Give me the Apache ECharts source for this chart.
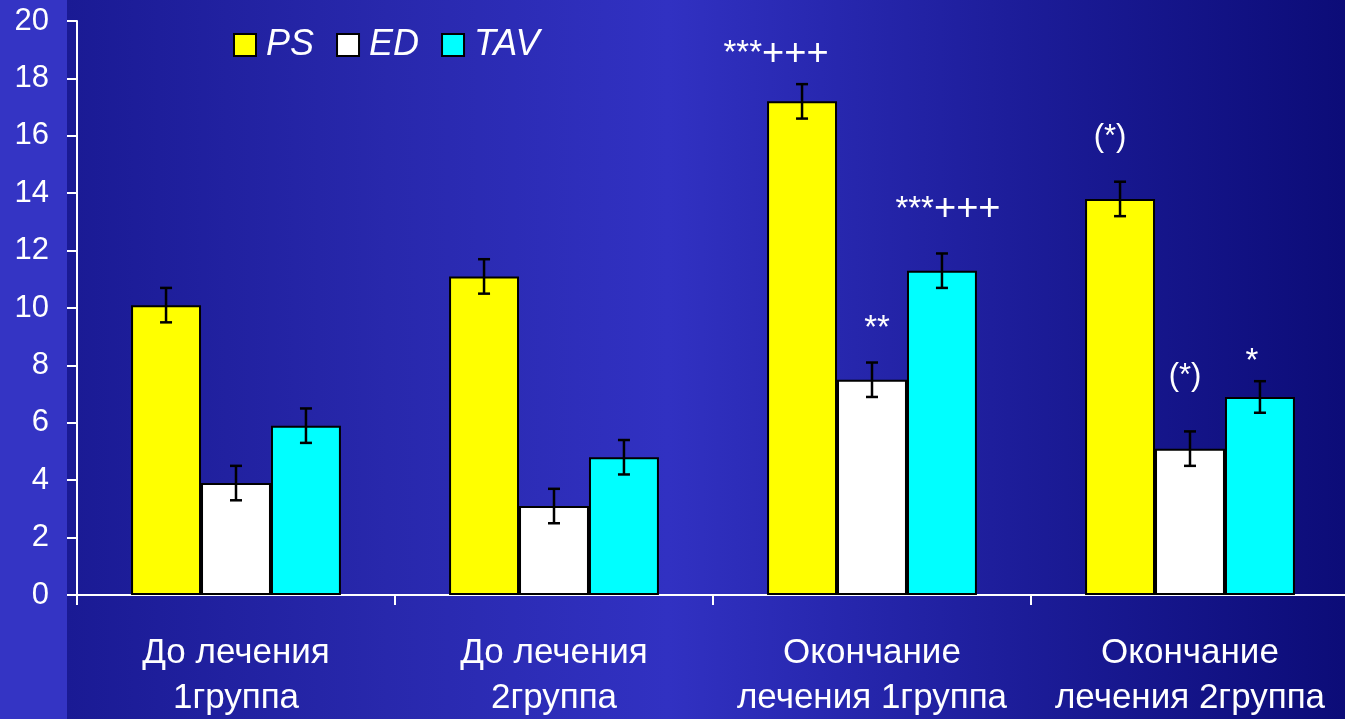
<!DOCTYPE html>
<html>
<head>
<meta charset="utf-8">
<script src="https://cdn.jsdelivr.net/npm/echarts@6/dist/echarts.min.js"></script>
<style>
  html, body { margin: 0; padding: 0; background: #3434c4; }
  #chart { width: 1345px; height: 719px; }
</style>
</head>
<body>
<div id="chart"></div>
<script>
// Groups along the x axis
const categories = ['До лечения\n1группа', 'До лечения\n2группа', 'Окончание\nлечения 1группа', 'Окончание\nлечения 2группа'];
const seriesNames = ['PS', 'ED', 'TAV'];

// Mean values per group
const psValues = [10.1, 11.1, 17.2, 13.8];
const edValues = [3.9, 3.1, 7.5, 5.1];
const tavValues = [5.9, 4.8, 11.3, 6.9];

// Error (± half-range) per group
const psErrors = [0.6, 0.6, 0.6, 0.6];
const edErrors = [0.6, 0.6, 0.6, 0.6];
const tavErrors = [0.6, 0.6, 0.6, 0.55];

// Significance marks above bars
const psMarks = ['', '', '***+++', '(*)'];
const edMarks = ['', '', '**', '(*)'];
const tavMarks = ['', '', '***+++', '*'];

const yTicks = { min: 0, max: 20, interval: 2 };

const FONT = '"Liberation Sans", Arial, sans-serif';
const colors = ['#ffff00', '#ffffff', '#00ffff'];
const CAT_GAP = 0.34;

// label placement for the significance marks: [dx, dy]
const markOffsets = {
  'PS-2': [-26, 0], 'PS-3': [-10, 0],
  'ED-2': [5, 0], 'ED-3': [-5, 0],
  'TAV-2': [6, 0], 'TAV-3': [-8, 0]
};
const markDistance = {
  'PS-2': 29, 'PS-3': 43,
  'ED-2': 33, 'ED-3': 54,
  'TAV-2': 43, 'TAV-3': 17
};

function richMark(text) {
  if (text === '(*)') return '{q|(*)}';
  const m = text.match(/^(\*+)(\+*)$/);
  if (!m) return text;
  return '{a|' + m[1] + '}' + (m[2] ? '{p|' + m[2] + '}' : '');
}

const markRich = {
  a: { color: '#fff', fontFamily: FONT, fontSize: 33, lineHeight: 36 },
  p: { color: '#fff', fontFamily: FONT, fontSize: 38, lineHeight: 36 },
  q: { color: '#fff', fontFamily: FONT, fontSize: 31, lineHeight: 36 }
};

function barData(name, values, marks) {
  return values.map((v, i) => {
    const key = name + '-' + i;
    if (!marks[i]) return { value: v };
    return {
      value: v,
      label: {
        show: true,
        position: 'top',
        distance: markDistance[key] || 20,
        offset: markOffsets[key] || [0, 0],
        formatter: richMark(marks[i]),
        rich: markRich
      }
    };
  });
}

function barSeries(idx, values, marks) {
  return {
    name: seriesNames[idx],
    type: 'bar',
    barGap: '0%',
    barCategoryGap: (CAT_GAP * 100) + '%',
    itemStyle: { color: colors[idx], borderColor: '#000', borderWidth: 2 },
    data: barData(seriesNames[idx], values, marks),
    z: 2
  };
}

function errorSeries(idx, values, errors) {
  return {
    type: 'custom',
    name: seriesNames[idx] + ' error',
    z: 5,
    silent: true,
    encode: { x: 0, y: [1, 2] },
    data: values.map((v, i) => [i, v - errors[i], v + errors[i]]),
    renderItem: function (params, api) {
      const cat = api.value(0);
      const band = api.size([1, 0])[0];
      const barW = band * (1 - CAT_GAP) / 3;
      const lo = api.coord([cat, api.value(1)]);
      const hi = api.coord([cat, api.value(2)]);
      const x = lo[0] + (idx - 1) * barW;
      const cap = 6;
      const style = { stroke: '#000', lineWidth: 2.5 };
      return {
        type: 'group',
        children: [
          { type: 'line', shape: { x1: x, y1: lo[1], x2: x, y2: hi[1] }, style },
          { type: 'line', shape: { x1: x - cap, y1: hi[1], x2: x + cap, y2: hi[1] }, style },
          { type: 'line', shape: { x1: x - cap, y1: lo[1], x2: x + cap, y2: lo[1] }, style }
        ]
      };
    }
  };
}

const chart = echarts.init(document.getElementById('chart'), null, { renderer: 'canvas' });

const option = {
  animation: false,
  backgroundColor: '#3434c4',
  textStyle: { fontFamily: FONT },
  graphic: [{
    type: 'rect',
    z: -10,
    silent: true,
    shape: { x: 67, y: 0, width: 1278, height: 719 },
    style: {
      fill: new echarts.graphic.LinearGradient(0, 0, 1, 0, [
        { offset: 0, color: '#1a1a94' },
        { offset: 0.25, color: '#2828ac' },
        { offset: 0.47, color: '#3131c2' },
        { offset: 0.75, color: '#1c1c98' },
        { offset: 1, color: '#0c0c78' }
      ])
    }
  }, {
    // x axis line continues left to the tick edge
    type: 'line',
    z: 10,
    silent: true,
    shape: { x1: 67, y1: 595, x2: 78, y2: 595 },
    style: { stroke: '#fff', lineWidth: 2 }
  }],
  legend: {
    data: seriesNames,
    left: 233,
    top: 27,
    padding: 0,
    itemWidth: 22,
    itemHeight: 22,
    itemGap: 22,
    icon: 'rect',
    itemStyle: { borderColor: '#000', borderWidth: 2 },
    textStyle: { color: '#fff', fontFamily: FONT, fontSize: 36, fontStyle: 'italic', padding: [0, 0, 0, 5] }
  },
  grid: { left: 77, right: -4, top: 21, bottom: 124, containLabel: false, outerBoundsMode: 'none' },
  xAxis: {
    type: 'category',
    data: categories,
    axisLine: { lineStyle: { color: '#fff', width: 2 } },
    axisTick: { show: true, length: 10, lineStyle: { color: '#fff', width: 2 } },
    axisLabel: {
      color: '#fff',
      fontFamily: FONT,
      fontSize: 35,
      lineHeight: 45,
      margin: 36,
      interval: 0
    },
    splitLine: { show: false }
  },
  yAxis: {
    type: 'value',
    min: yTicks.min,
    max: yTicks.max,
    interval: yTicks.interval,
    axisLine: { show: true, lineStyle: { color: '#fff', width: 2 } },
    axisTick: { show: true, length: 10, lineStyle: { color: '#fff', width: 2 } },
    axisLabel: { color: '#fff', fontFamily: FONT, fontSize: 31, margin: 28 },
    splitLine: { show: false }
  },
  series: [
    barSeries(0, psValues, psMarks),
    barSeries(1, edValues, edMarks),
    barSeries(2, tavValues, tavMarks),
    errorSeries(0, psValues, psErrors),
    errorSeries(1, edValues, edErrors),
    errorSeries(2, tavValues, tavErrors)
  ]
};

chart.setOption(option);
</script>
</body>
</html>
